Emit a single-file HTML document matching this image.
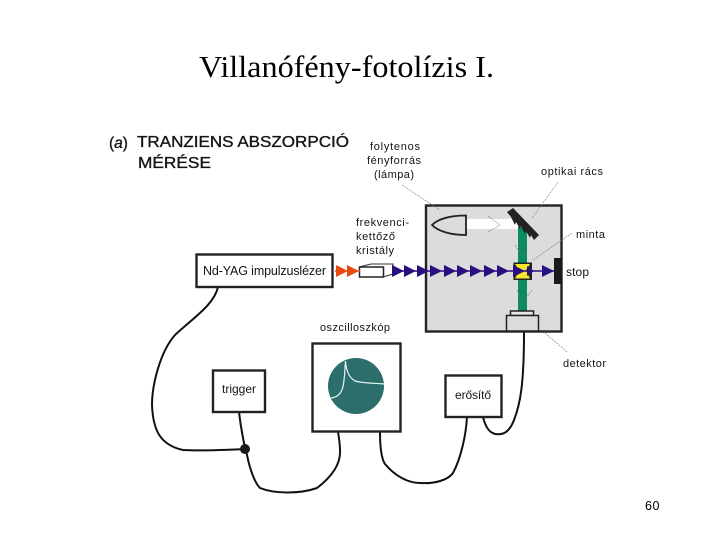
<!DOCTYPE html>
<html>
<head>
<meta charset="utf-8">
<style>
html,body{margin:0;padding:0;background:#fff;width:720px;height:540px;overflow:hidden}
svg{display:block}
text{font-family:"Liberation Sans",sans-serif;fill:#151515}
.h{stroke:#151515;stroke-width:.35}
</style>
</head>
<body>
<svg width="720" height="540" viewBox="0 0 720 540" xmlns="http://www.w3.org/2000/svg">
<text x="199" y="77" style="font-family:'Liberation Serif',serif;fill:#000" font-size="30.5" textLength="295" lengthAdjust="spacingAndGlyphs">Villanófény-fotolízis I.</text>

<text class="h" x="109" y="148" font-size="15.5">(<tspan font-style="italic">a</tspan>)</text>
<text class="h" x="137" y="147" font-size="15.5" textLength="212" lengthAdjust="spacingAndGlyphs">TRANZIENS ABSZORPCIÓ</text>
<text class="h" x="138" y="168" font-size="15.5" textLength="73" lengthAdjust="spacingAndGlyphs">MÉRÉSE</text>

<g font-size="11">
<text x="395" y="150" text-anchor="middle" textLength="50" lengthAdjust="spacing">folytenos</text>
<text x="394" y="164" text-anchor="middle" textLength="54" lengthAdjust="spacing">fényforrás</text>
<text x="394" y="178" text-anchor="middle" textLength="40" lengthAdjust="spacing">(lámpa)</text>
<text x="541" y="175" textLength="62" lengthAdjust="spacing">optikai rács</text>
<text x="356" y="226" textLength="53" lengthAdjust="spacing">frekvenci-</text>
<text x="356" y="240" textLength="39" lengthAdjust="spacing">kettőző</text>
<text x="356" y="254" textLength="38" lengthAdjust="spacing">kristály</text>
<text x="576" y="238" textLength="29" lengthAdjust="spacing">minta</text>
<text x="566" y="276" font-size="12" textLength="23" lengthAdjust="spacing">stop</text>
<text x="563" y="367" textLength="43" lengthAdjust="spacing">detektor</text>
<text x="320" y="331" textLength="70" lengthAdjust="spacing">oszcilloszkóp</text>
</g>

<!-- wires -->
<g fill="none" stroke="#111" stroke-width="2" stroke-linecap="round">
<path d="M218 287C214 305 193 318 175 335C160 352 152 385 152 405C153 430 160 445 183 450C200 451 225 450 245 449"/>
<path d="M239 412C241 430 245 449 247 455C250 470 255 483 260 488C275 494 300 494 317 488C330 478 341 465 340 450C340 445 339 438 338 432"/>
<path d="M380 432C380 445 381 458 385 464C395 476 408 483 420 483C435 484 448 480 453 473C461 458 466 435 467 417"/>
<path d="M483 417C485 425 488 432 495 434C503 435 509 433 514 420C520 405 524 385 524 333"/>
</g>
<circle cx="245" cy="449" r="5" fill="#1a1a1a"/>

<!-- main box -->
<rect x="426" y="205.500" width="135.500" height="126" fill="#dcdcdc" stroke="#222" stroke-width="2.400"/>
<!-- lamp -->
<rect x="466" y="219" width="53" height="10" fill="#fff"/>
<path d="M466 215.500V235C450 235 438 231 432 225C438 219 450 215.500 466 215.500Z" fill="#dcdcdc" stroke="#222" stroke-width="1.800"/>
<!-- green beam -->
<rect x="518" y="227" width="9" height="85" fill="#0a8c5c"/>
<!-- grating -->
<path d="M507 212L513 208L539 235L534 240L531 235L530 238L526 231L525 234L521 226L520 229L516 222L515 225L511 217Z" fill="#222"/>
<!-- sample -->
<rect x="513.500" y="262.500" width="18.500" height="17.500" fill="#222"/>
<path d="M515 264H530L526 270.500L530 278.500H515L519 270.500Z" fill="#f7e52a"/>
<!-- stop -->
<rect x="554" y="258" width="8" height="26" fill="#1a1a1a"/>
<!-- detector -->
<rect x="510.500" y="311" width="23" height="4.500" fill="#e8e8e8" stroke="#222" stroke-width="1.500"/>
<rect x="506.500" y="315.500" width="32" height="15.500" fill="#dcdcdc" stroke="#222" stroke-width="1.500"/>

<!-- crystal -->
<path d="M371 264H393V274L383 277V267H359Z" fill="#fff" stroke="#333" stroke-width="1.100"/>
<rect x="359.500" y="267" width="24" height="10" fill="#fff" stroke="#222" stroke-width="1.500"/>

<!-- beam -->
<line x1="335" y1="271" x2="360" y2="271" stroke="#e8490f" stroke-width="1.500"/>
<line x1="392" y1="271" x2="554" y2="271" stroke="#2a0f80" stroke-width="1.500"/>
<g fill="#e8490f">
<path d="M336 265L348 271L336 277Z"/>
<path d="M347 265L359 271L347 277Z"/>
</g>
<g fill="#2a0f80">
<path d="M392 265L404 271L392 277Z"/>
<path d="M404 265L416 271L404 277Z"/>
<path d="M417 265L429 271L417 277Z"/>
<path d="M430 265L442 271L430 277Z"/>
<path d="M444 265L456 271L444 277Z"/>
<path d="M457 265L469 271L457 277Z"/>
<path d="M470 265L482 271L470 277Z"/>
<path d="M484 265L496 271L484 277Z"/>
<path d="M497 265L509 271L497 277Z"/>
<path d="M513 265L525 271L513 277Z"/>
<path d="M527 266L534 271L527 276Z"/>
<path d="M542 265L554 271L542 277Z"/>
</g>

<!-- leader lines -->
<g fill="none" stroke="#777" stroke-width="0.600" stroke-dasharray="2 1">
<path d="M402 185L440 210"/>
<path d="M558 182L532 218"/>
<path d="M572 233L533 260"/>
<path d="M545 333L567 352"/>
<path d="M488 216L500 225L488 232"/>
<path d="M515 245L523 257L527 250"/>
<path d="M517 290L523 302L532 290"/>
</g>

<!-- boxes -->
<rect x="196.500" y="254.500" width="136" height="32.500" fill="#fff" stroke="#222" stroke-width="2.400"/>
<text x="203" y="275" font-size="12.500" textLength="123" lengthAdjust="spacing">Nd-YAG impulzuslézer</text>
<rect x="213" y="370.500" width="52" height="41.500" fill="#fff" stroke="#222" stroke-width="2.400"/>
<text x="222" y="393" font-size="12" textLength="34" lengthAdjust="spacing">trigger</text>
<rect x="312.500" y="343.500" width="88" height="88" fill="#fff" stroke="#222" stroke-width="2.400"/>
<circle cx="356" cy="386" r="28" fill="#2b6e6c"/>
<path d="M331 398C339 397 343 392 344 380C345 372 345 366 345.500 361C346 369 348 377 355 381C362 383 372 383 384 384" fill="none" stroke="#e8f4f0" stroke-width="1.200"/>
<rect x="445.500" y="375.500" width="56" height="41.500" fill="#fff" stroke="#222" stroke-width="2.400"/>
<text x="455" y="399" font-size="12" textLength="36" lengthAdjust="spacing">erősítő</text>

<text x="645" y="510" font-size="12.500" style="fill:#000" textLength="14.500" lengthAdjust="spacing">60</text>
</svg>
</body>
</html>
